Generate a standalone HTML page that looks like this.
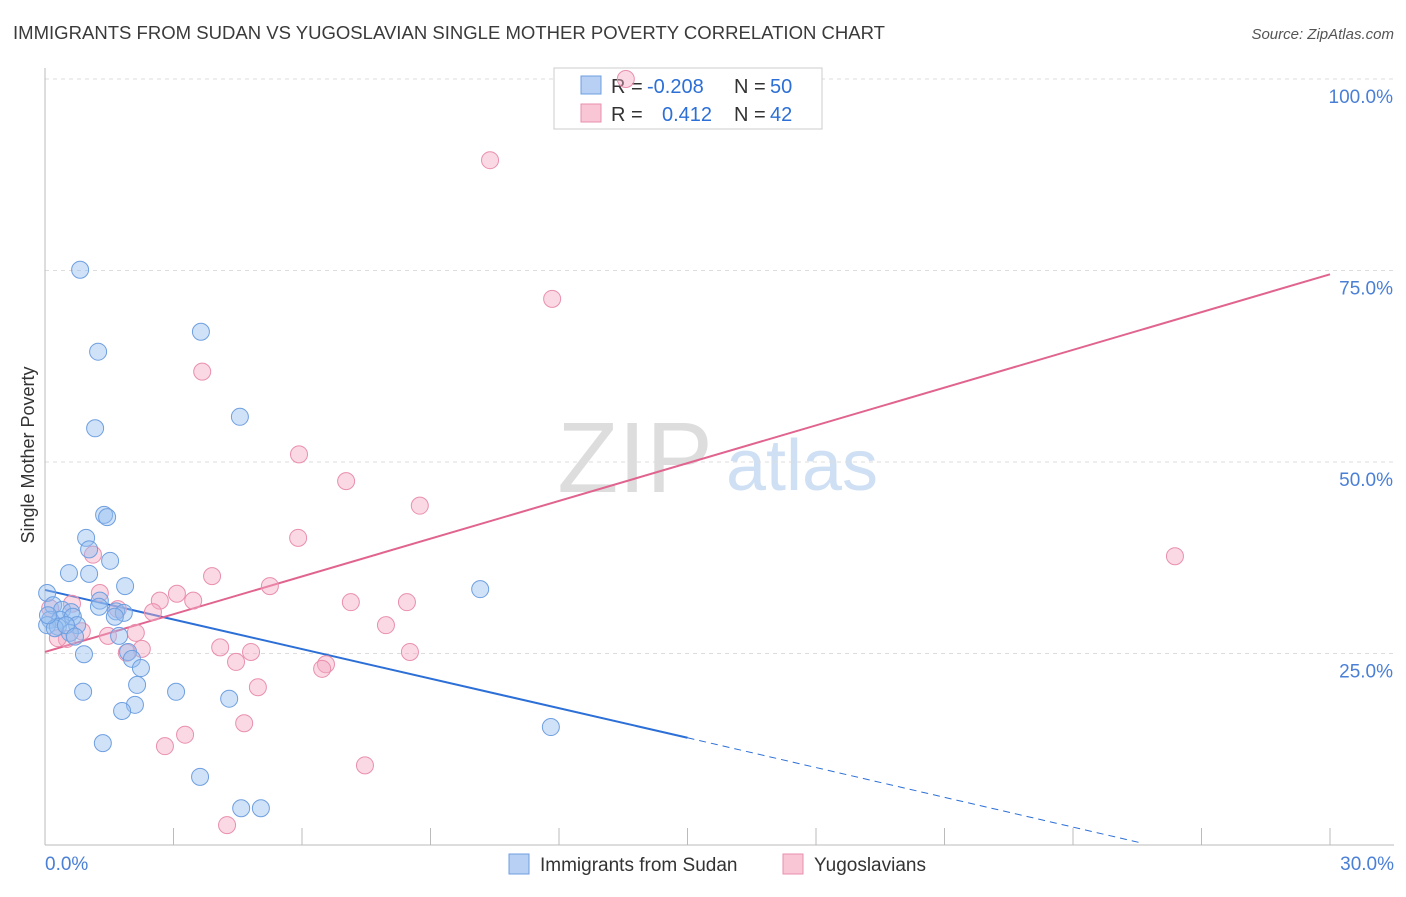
<!DOCTYPE html>
<html><head><meta charset="utf-8"><style>
body{margin:0;background:#fff;font-family:"Liberation Sans",sans-serif}
svg text{font-family:"Liberation Sans",sans-serif}
</style></head><body>
<svg id="chart" width="1406" height="892" xmlns="http://www.w3.org/2000/svg">
<text x="13" y="39" font-size="18" fill="#3a3a3a" textLength="872" lengthAdjust="spacingAndGlyphs">IMMIGRANTS FROM SUDAN VS YUGOSLAVIAN SINGLE MOTHER POVERTY CORRELATION CHART</text>
<text x="1394" y="39" font-size="15" fill="#555" text-anchor="end" font-style="italic">Source: ZipAtlas.com</text>
<text transform="translate(34,455) rotate(-90)" font-size="18" fill="#333" text-anchor="middle">Single Mother Poverty</text>
<g>
<text x="635" y="492" font-size="100" fill="#ddd" font-family="Liberation Serif" text-anchor="middle">ZIP</text>
<text x="802" y="490" font-size="72" fill="#cfdff4" text-anchor="middle">atlas</text>
</g>
<g id="grid"></g><g id="axes"></g><g id="lines"></g>
<g>
<rect x="554" y="68" width="268" height="61" fill="#fff" stroke="#ccc"/>
<rect x="581" y="76" width="20" height="18" fill="#b7d0f3" stroke="#6e9fe0"/>
<rect x="581" y="104" width="20" height="18" fill="#f8c6d5" stroke="#e98fad"/>
<text x="611" y="93" font-size="20" fill="#333">R =</text>
<text x="647" y="93" font-size="20" fill="#2c6fd6">-0.208</text>
<text x="734" y="93" font-size="20" fill="#333">N =</text>
<text x="770" y="93" font-size="20" fill="#2c6fd6">50</text>
<text x="611" y="121" font-size="20" fill="#333">R =</text>
<text x="662" y="121" font-size="20" fill="#2c6fd6">0.412</text>
<text x="734" y="121" font-size="20" fill="#333">N =</text>
<text x="770" y="121" font-size="20" fill="#2c6fd6">42</text>
</g>
<g id="pts"></g>
<g>
<rect x="509" y="854" width="20" height="20" fill="#b7d0f3" stroke="#6e9fe0"/>
<text x="540" y="871" font-size="19" fill="#333">Immigrants from Sudan</text>
<rect x="783" y="854" width="20" height="20" fill="#f8c6d5" stroke="#e98fad"/>
<text x="814" y="871" font-size="19" fill="#333">Yugoslavians</text>
</g>
</svg>
<script>
const yTicks=[25,50,75,100];
const yTickLabels=["25.0%","50.0%","75.0%","100.0%"];
const xTickVals=[0,3,6,9,12,15,18,21,24,27,30];
const xLabels=["0.0%","30.0%"];
const sudanX=[0.82,1.24,3.64,1.17,4.55,1.38,1.45,0.96,1.03,1.52,0.56,1.03,1.87,10.16,0.05,0.19,1.28,0.40,1.26,1.66,1.84,0.61,0.12,0.35,0.65,0.75,0.05,1.63,0.30,0.58,1.73,0.91,1.94,2.03,2.24,2.15,0.89,3.06,4.30,2.10,1.80,1.35,11.81,3.62,4.58,5.04,0.23,0.49,0.07,0.70];
const sudanY=[75.1,64.4,67.0,54.4,55.9,43.1,42.8,40.1,38.6,37.1,35.5,35.4,33.8,33.4,32.9,31.3,31.9,30.7,31.1,30.5,30.3,30.4,29.4,29.4,29.8,28.7,28.7,29.8,28.5,27.7,27.3,24.9,25.2,24.3,23.1,20.9,20.0,20.0,19.1,18.3,17.5,13.3,15.4,8.9,4.8,4.8,28.3,28.7,30.0,27.2];
const yugoX=[10.39,11.84,3.67,5.93,7.03,8.75,5.91,1.12,3.90,5.25,3.08,3.46,2.68,7.14,8.45,1.28,0.63,1.70,2.52,0.12,7.96,0.86,2.12,1.47,0.51,4.09,4.81,2.26,8.52,1.91,4.46,6.56,6.47,4.97,3.27,2.80,4.65,7.47,4.25,26.38,13.56,0.30];
const yugoY=[89.4,71.3,61.8,51.0,47.5,44.3,40.1,37.9,35.1,33.8,32.8,31.9,31.9,31.7,31.7,32.9,31.5,30.8,30.4,30.9,28.7,27.9,27.7,27.3,26.9,25.8,25.2,25.6,25.2,25.1,23.9,23.6,23.0,20.6,14.4,12.9,15.9,10.4,2.6,37.7,100,27.0];
const sudanTrend=[[0,33.3],[15,14.0],[25.57,0.3]];
const yugoTrend=[[0,25.2],[30,74.5]];
const NS="http://www.w3.org/2000/svg";
const X=v=>45+v/30*1285, Y=v=>845-v/100*766;
function mk(t,a,p){const e=document.createElementNS(NS,t);for(const k in a)e.setAttribute(k,a[k]);p.appendChild(e);return e;}
const grid=document.getElementById('grid'),axes=document.getElementById('axes');
yTicks.forEach((t,i)=>{
 const l=mk('line',{x1:45,x2:1394,y1:Y(t),y2:Y(t),stroke:'#ddd','stroke-dasharray':'4,4'},grid);
 
 
 const tx=mk('text',{x:1393,y:Y(t)+24,'font-size':19,fill:'#4a7fd6','text-anchor':'end'},axes);
 tx.textContent=yTickLabels[i];
 
 
});
const xa=mk('line',{x1:45,x2:1394,y1:845,y2:845,stroke:'#bbb'},axes);


const ya=mk('line',{x1:45,x2:45,y1:68,y2:845,stroke:'#bbb'},axes);


xTickVals.forEach(v=>{const t=mk('line',{x1:X(v),x2:X(v),y1:828,y2:845,stroke:'#bbb'},axes);
 
 });
const xl0=mk('text',{x:45,y:870,'font-size':19,fill:'#4a7fd6'},axes);xl0.textContent=xLabels[0];


const xl1=mk('text',{x:1394,y:870,'font-size':19,fill:'#4a7fd6','text-anchor':'end'},axes);xl1.textContent=xLabels[1];


const pts=document.getElementById('pts');
yugoX.forEach((x,i)=>{const c=mk('circle',{cx:X(x),cy:Y(yugoY[i]),r:8.5,fill:'rgba(244,170,195,0.45)',stroke:'#e98fad','stroke-width':1},pts);
 
 });
sudanX.forEach((x,i)=>{const c=mk('circle',{cx:X(x),cy:Y(sudanY[i]),r:8.5,fill:'rgba(150,190,240,0.45)',stroke:'#6e9fe0','stroke-width':1},pts);
 
 });
const lines=document.getElementById('lines');
const b1=mk('line',{x1:X(sudanTrend[0][0]),y1:Y(sudanTrend[0][1]),x2:X(sudanTrend[1][0]),y2:Y(sudanTrend[1][1]),stroke:'#2c6fd6','stroke-width':2},lines);


const b2=mk('line',{x1:X(sudanTrend[1][0]),y1:Y(sudanTrend[1][1]),x2:X(sudanTrend[2][0]),y2:Y(sudanTrend[2][1]),stroke:'#2c6fd6','stroke-width':1,'stroke-dasharray':'7,5'},lines);


const p1=mk('line',{x1:X(yugoTrend[0][0]),y1:Y(yugoTrend[0][1]),x2:X(yugoTrend[1][0]),y2:Y(yugoTrend[1][1]),stroke:'#e0648f','stroke-width':2},lines);


</script>
</body></html>
